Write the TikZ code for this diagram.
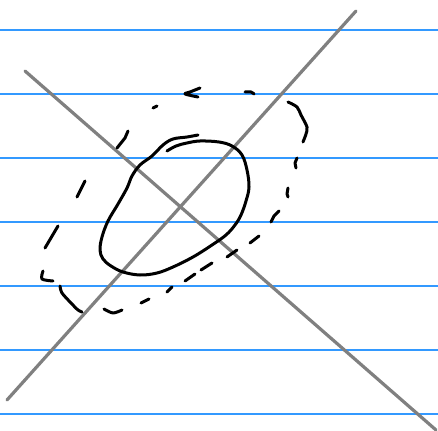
\documentclass[tikz,border=0pt]{standalone}
\definecolor{ruleblue}{RGB}{51,153,255}
\definecolor{axisgray}{RGB}{128,128,128}
\tikzset{
  ruling/.style={draw=ruleblue,line width=1.2pt},
  axisline/.style={draw=axisgray,line width=3.2pt,line cap=round},
  ink/.style={draw=black,line width=3pt,line cap=round,line join=round},
}
\begin{document}
\begin{tikzpicture}[x=1pt,y=-1pt]
\useasboundingbox (0,0) rectangle (438,430);
\fill[white] (0,0) rectangle (438,430);
% ruled lines
\foreach \yy in {30,94,158,222,286,350,414}
  \draw[ruling] (0,\yy) -- (438,\yy);
% gray crossing lines
\coordinate (a1) at (7,400);
\coordinate (a2) at (356,11);
\coordinate (b1) at (25,71);
\coordinate (b2) at (436,430);
\draw[axisline] (a1) -- (a2);
\draw[axisline] (b1) -- (b2);
% solid loop
\draw[ink] plot[smooth,tension=0.6] coordinates {
 (198,135) (187,137) (173,139) (163,145) (152,156) (140,165) (132,176)
 (127,188) (118,204) (108,221) (102,237) (100,250) (103,259) (111,266)
 (123,272) (140,275) (157,273) (173,267) (193,257) (212,245) (226,235)
 (235,225) (241,215) (246,201) (249,187) (247,170) (242,155) (232,146)
 (219,142) (200,141) (187,143) (176,146) (167,151)};
% dashed loop, hand drawn strokes
\draw[ink] plot[smooth] coordinates {(200,88) (190,92) (185,94) (198,97)};
\draw[ink] (153,108) -- (157,106);
\draw[ink] (128,131) -- (125,138) -- (117,148);
\draw[ink] (85,181) -- (77,197);
\draw[ink] (58,226) -- (45,248);
\draw[ink] plot[smooth] coordinates {(43,271) (42,279) (53,281)};
\draw[ink] plot[smooth] coordinates {(60,286) (62,293) (71,303) (78,310) (82,312)};
\draw[ink] plot[smooth] coordinates {(104,309) (113,313) (122,310)};
\draw[ink] (141,303) -- (149,299);
\draw[ink] (167,292) -- (172,287);
\draw[ink] (185,281) -- (195,274);
\draw[ink] (201,270) -- (212,263);
\draw[ink] (227,257) -- (237,250);
\draw[ink] (250,243) -- (259,236);
\draw[ink] (271,222) -- (274,216) -- (279,211);
\draw[ink] (288,188) -- (287,194) -- (288,197);
\draw[ink] (297,158) -- (295,163) -- (296,168);
\draw[ink] plot[smooth] coordinates {(288,102) (297,107) (301,115) (307,127) (306,134) (303,142)};
\draw[ink] plot[smooth] coordinates {(245,92) (251,92) (254,94)};
\end{tikzpicture}
\end{document}
